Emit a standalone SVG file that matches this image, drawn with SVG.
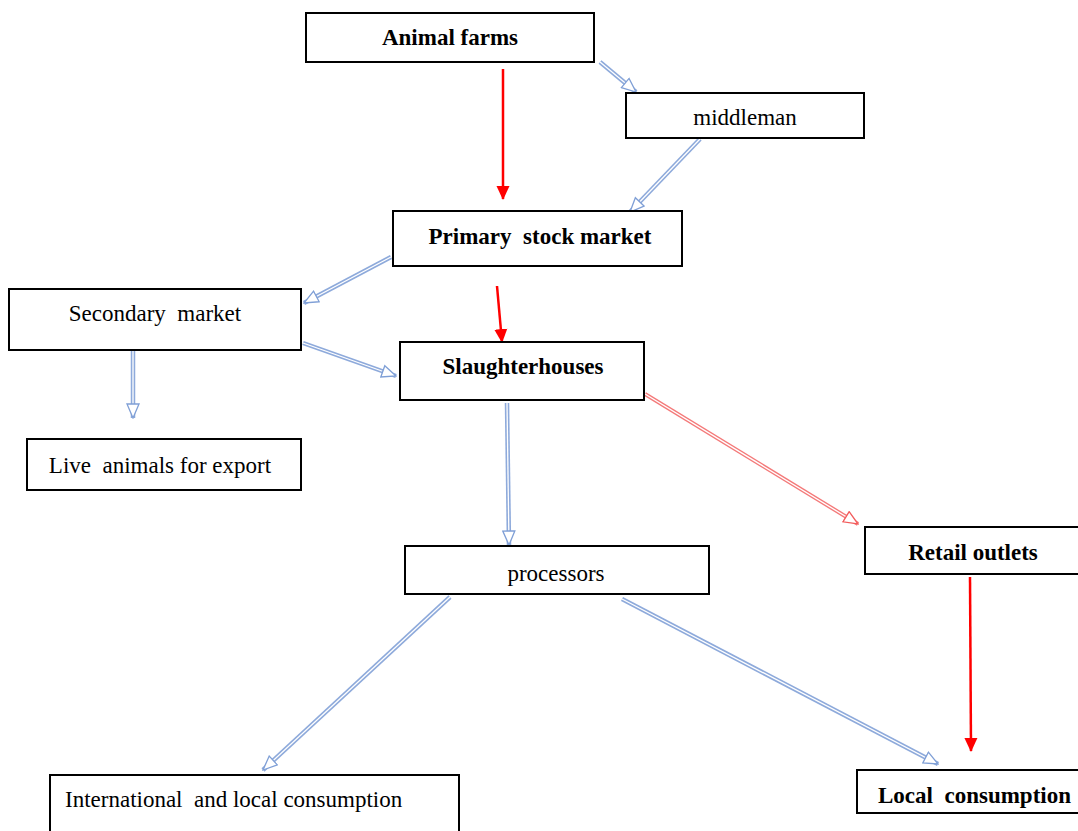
<svg xmlns="http://www.w3.org/2000/svg" width="1078" height="831" viewBox="0 0 1078 831">
<style>
.box{fill:#fff;stroke:#000;stroke-width:2}
.t{font-family:"Liberation Serif","Times New Roman",serif;font-size:23px;fill:#000;white-space:pre}
.b{font-weight:bold}
.bo{fill:none;stroke:#8eaadb;stroke-width:4.5}
.bi{fill:none;stroke:#fff;stroke-width:1.3}
.ro{fill:none;stroke:#f47a7a;stroke-width:4}
.rs{fill:none;stroke:#ff0000;stroke-width:2.5}
</style>
<defs>
<marker id="ob" markerUnits="userSpaceOnUse" markerWidth="16" markerHeight="14" refX="15" refY="7" orient="auto" viewBox="0 0 16 14">
<path d="M1,1 L15,7 L1,13 Z" fill="#fff" stroke="#7f9fd6" stroke-width="1.3"/>
</marker>
<marker id="or" markerUnits="userSpaceOnUse" markerWidth="16" markerHeight="14" refX="15" refY="7" orient="auto" viewBox="0 0 16 14">
<path d="M1,1 L15,7 L1,13 Z" fill="#fff" stroke="#f25c5c" stroke-width="1.3"/>
</marker>
<marker id="fr" markerUnits="userSpaceOnUse" markerWidth="14" markerHeight="14" refX="13" refY="6.5" orient="auto" viewBox="0 0 14 13">
<path d="M0,0 L14,6.5 L0,13 Z" fill="#ff0000"/>
</marker>
</defs>
<g id="connectors">
<path class="rs" d="M503,69 L503,199" marker-end="url(#fr)"/>
<path class="bo" d="M600,62 L636,92"/><path class="bi" d="M600,62 L636,92" marker-end="url(#ob)"/>
<path class="bo" d="M700,139 L630,212"/><path class="bi" d="M700,139 L630,212" marker-end="url(#ob)"/>
<path class="bo" d="M391,257 L304,303"/><path class="bi" d="M391,257 L304,303" marker-end="url(#ob)"/>
<path class="rs" d="M497,286 L502,342" marker-end="url(#fr)"/>
<path class="bo" d="M303,343 L396,376"/><path class="bi" d="M303,343 L396,376" marker-end="url(#ob)"/>
<path class="bo" d="M133,351 L133,418"/><path class="bi" d="M133,351 L133,418" marker-end="url(#ob)"/>
<path class="bo" d="M507,403 L509,545"/><path class="bi" d="M507,403 L509,545" marker-end="url(#ob)"/>
<path class="ro" d="M645,394 L858,524"/><path class="bi" d="M645,394 L858,524" marker-end="url(#or)"/>
<path class="rs" d="M970,577 L971,751" marker-end="url(#fr)"/>
<path class="bo" d="M450,597 L263,770"/><path class="bi" d="M450,597 L263,770" marker-end="url(#ob)"/>
<path class="bo" d="M622,599 L938,764"/><path class="bi" d="M622,599 L938,764" marker-end="url(#ob)"/>
</g>
<g id="animal-farms"><rect class="box" x="306" y="13" width="288" height="49"/><text class="t b" x="450" y="45" text-anchor="middle">Animal farms</text></g>
<g id="middleman"><rect class="box" x="626" y="93" width="238" height="45"/><text class="t" x="745" y="125" text-anchor="middle">middleman</text></g>
<g id="primary-stock-market"><rect class="box" x="393" y="211" width="289" height="55"/><text class="t b" x="540" y="244" text-anchor="middle" xml:space="preserve">Primary  stock market</text></g>
<g id="secondary-market"><rect class="box" x="9" y="289" width="292" height="61"/><text class="t" x="155" y="321" text-anchor="middle" xml:space="preserve">Secondary  market</text></g>
<g id="slaughterhouses"><rect class="box" x="400" y="342" width="244" height="58"/><text class="t b" x="523" y="374" text-anchor="middle">Slaughterhouses</text></g>
<g id="live-animals"><rect class="box" x="27" y="439" width="274" height="51"/><text class="t" x="160" y="473" text-anchor="middle" xml:space="preserve">Live  animals for export</text></g>
<g id="processors"><rect class="box" x="405" y="546" width="304" height="48"/><text class="t" x="556" y="581" text-anchor="middle">processors</text></g>
<g id="retail-outlets"><rect class="box" x="865" y="527" width="216" height="47"/><text class="t b" x="973" y="560" text-anchor="middle">Retail outlets</text></g>
<g id="international"><rect class="box" x="50" y="775" width="409" height="60"/><text class="t" x="65" y="807" xml:space="preserve">International  and local consumption</text></g>
<g id="local-consumption"><rect class="box" x="857" y="770" width="224" height="43"/><text class="t b" x="878" y="803" xml:space="preserve">Local  consumption</text></g>
</svg>
